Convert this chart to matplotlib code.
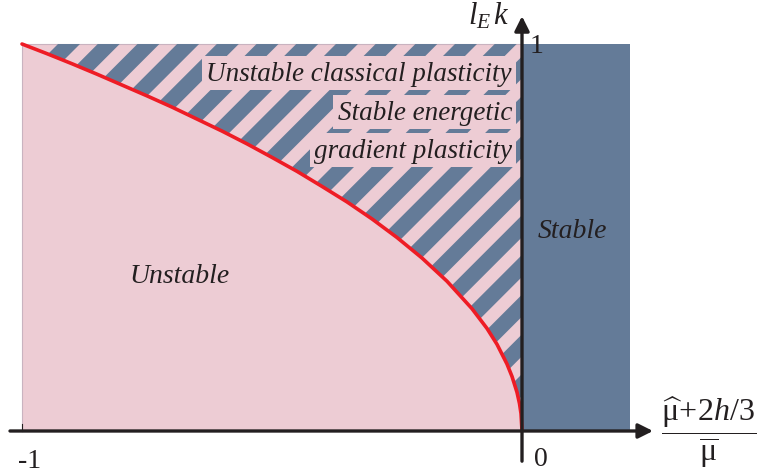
import matplotlib.pyplot as plt
import numpy as np
from matplotlib.patches import Polygon, Rectangle

plt.rcParams['font.family'] = ['Liberation Serif', 'DejaVu Serif']
plt.rcParams['mathtext.fontset'] = 'custom'
plt.rcParams['mathtext.rm'] = 'Liberation Serif'
plt.rcParams['mathtext.it'] = 'Liberation Serif:italic'

# stability boundary l_E k vs (mu_hat + 2h/3)/mu_bar
boundary_x = [-1.0, -0.95, -0.9, -0.85, -0.8, -0.75, -0.7, -0.65, -0.6, -0.55,
              -0.5, -0.45, -0.4, -0.35, -0.3, -0.25, -0.2, -0.15, -0.1, -0.07,
              -0.05, -0.03, -0.02, -0.01, -0.005, -0.002, 0.0]
boundary_y = [1.0, 0.975, 0.949, 0.922, 0.894, 0.866, 0.837, 0.806, 0.775, 0.742,
              0.707, 0.671, 0.632, 0.592, 0.548, 0.5, 0.447, 0.387, 0.316, 0.265,
              0.224, 0.173, 0.141, 0.100, 0.071, 0.045, 0.0]

x_min, x_max = -1.0, 0.0
k_max = 1.0
stable_right = 0.215

region_labels = ['Unstable classical plasticity', 'Stable energetic',
                 'gradient plasticity']

pink = '#EDCCD4'
blue = '#647B98'
red = '#EE1C25'
ink = '#231F20'

fig = plt.figure(figsize=(7.61, 4.77), dpi=100)
ax = fig.add_axes([0, 0, 1, 1])
ax.set_xlim(-1.044, 0.478)
ax.set_ylim(-0.1163, 1.1163)
ax.axis('off')

# pink background for the unstable side
ax.add_patch(Rectangle((x_min, 0), x_max - x_min, k_max, facecolor=pink,
                       edgecolor='#C9B3C0', lw=0.8, zorder=1))

# hatched region above the boundary
hatch_pts = list(zip(boundary_x, boundary_y)) + [(x_max, k_max), (x_min, k_max)]
hatch_region = Polygon(hatch_pts, closed=True, facecolor='none',
                       edgecolor='none', zorder=2)
ax.add_patch(hatch_region)

# diagonal stripes, laid out in pixel units (500 px per x unit, 387 px per y unit)
sx, sy = 500.0, 387.0
slope = 1.0           # tan of the stripe angle
period, width = 39.7, 22.0
start = 58.0 - 522.0 - sy / slope   # first stripe edge along the top border
y_lo, y_hi = -0.1, 1.1
u = start
while u < 500:
    a, b = u, u + width
    pts = [((a + sy * y_lo / slope) / sx, y_lo), ((b + sy * y_lo / slope) / sx, y_lo),
           ((b + sy * y_hi / slope) / sx, y_hi), ((a + sy * y_hi / slope) / sx, y_hi)]
    stripe = Polygon(pts, closed=True, facecolor=blue, edgecolor='none',
                     zorder=2)
    ax.add_patch(stripe)
    stripe.set_clip_path(hatch_region)
    u += period

# stable region
ax.add_patch(Rectangle((0, 0), stable_right, k_max, facecolor=blue,
                       edgecolor='none', zorder=2))

ax.plot(boundary_x, boundary_y, color=red, lw=2.6, zorder=4,
        solid_capstyle='round')

# axes with arrows
ax.annotate('', xy=(0.262, 0), xytext=(-1.024, 0),
            arrowprops=dict(arrowstyle='-|>', color=ink, lw=2.4,
                            mutation_scale=22, shrinkA=0, shrinkB=0),
            zorder=5)
ax.annotate('', xy=(0, 1.072), xytext=(0, -0.078),
            arrowprops=dict(arrowstyle='-|>', color=ink, lw=2.4,
                            mutation_scale=22, shrinkA=0, shrinkB=0),
            zorder=5)
ax.plot([-1, -1], [0, 0.018], color=ink, lw=0.8, zorder=5)

tick_kw = dict(fontsize=20, color=ink, ha='center', va='center', zorder=6)
ax.text(-0.984, -0.075, '-1', **tick_kw)
ax.text(0.038, -0.072, '0', **tick_kw)
ax.text(0.03, 0.997, '1', **tick_kw)

ax.text(-0.066, 1.075, r'$l_{E}\,k$', fontsize=22, color=ink,
        ha='center', va='center')
ax.text(0.374, 0.0, r'$\dfrac{\widehat{\mathrm{\mu}}\!+\!2h/3}{\overline{\mathrm{\mu}}}$',
        fontsize=23, color=ink, ha='center', va='center')

box = dict(boxstyle='square,pad=0.16', facecolor=pink, edgecolor='none')
label_y = [0.925, 0.824, 0.726]
for text, y in zip(region_labels, label_y):
    ax.text(-0.02, y, text, fontsize=19.5, style='italic', color=ink,
            ha='right', va='center', bbox=box, zorder=6)

ax.text(0.1, 0.519, 'Stable', fontsize=20, style='italic', color=ink,
        ha='center', va='center', zorder=6)
ax.text(-0.684, 0.403, 'Unstable', fontsize=20, style='italic', color=ink,
        ha='center', va='center', zorder=6)

fig.savefig('out.png', dpi=100)
